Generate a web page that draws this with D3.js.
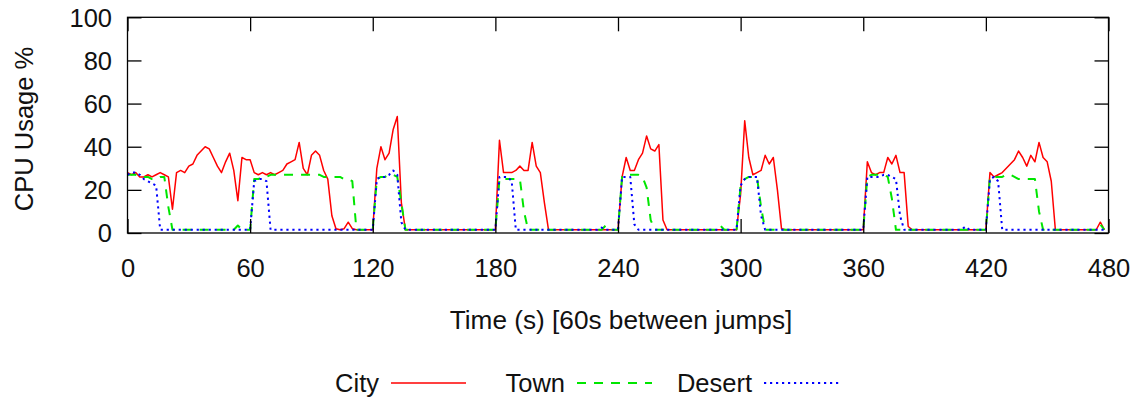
<!DOCTYPE html>
<html>
<head>
<meta charset="utf-8">
<script src="https://cdn.jsdelivr.net/npm/d3@7"></script>
<style>
  html, body { margin: 0; padding: 0; background: #fff; }
  svg { display: block; }
  text { font-family: "Liberation Sans", Arial, Helvetica, sans-serif; fill: #111; }
</style>
</head>
<body>
<svg id="chart" width="1135" height="402"></svg>
<script>
// ---- data (CPU usage %, one sample every 2 s, t = 0 .. 478 s) ----
const seriesNames = ["City", "Town", "Desert"];
const xTickValues = [0, 60, 120, 180, 240, 300, 360, 420, 480];
const yTickValues = [0, 20, 40, 60, 80, 100];

const cityValues = [
  28,27,28,26,26,27,26,27,28,27, 26,11,28,29,28,31,32,36,38,40, 39,35,31,28,33,37,29,15,35,34,
  34,28,27,28,27,28,27,28,29,32, 33,34,42,30,27,36,38,36,29,25, 8,2,1.5,2,5,2,1.5,1.5,1.5,1.5,
  1.5,30,40,34,37,48,54,14,1.5,1.5, 1.5,1.5,1.5,1.5,1.5,1.5,1.5,1.5,1.5,1.5, 1.5,1.5,1.5,1.5,1.5,1.5,1.5,1.5,1.5,1.5,
  1.5,43,28,28,28,29,31,29,29,42, 31,28,14,1.5,1.5,1.5,1.5,1.5,1.5,1.5, 1.5,1.5,1.5,1.5,1.5,1.5,1.5,1.5,1.5,1.5,
  1.5,26,35,29,29,34,37,45,39,38, 41,6,1.5,1.5,1.5,1.5,1.5,1.5,1.5,1.5, 1.5,1.5,1.5,1.5,1.5,1.5,1.5,1.5,1.5,1.5,
  18,52,35,27,28,29,36,32,35,20, 2,1.5,1.5,1.5,1.5,1.5,1.5,1.5,1.5,1.5, 1.5,1.5,1.5,1.5,1.5,1.5,1.5,1.5,1.5,1.5,
  1.5,33,28,27,28,28,35,32,36,28, 28,3,1.5,1.5,1.5,1.5,1.5,1.5,1.5,1.5, 1.5,1.5,1.5,1.5,1.5,1.5,1.5,1.5,1.5,1.5,
  1.5,28,26,27,28,30,32,34,38,35, 31,36,33,42,35,33,24,1.5,1.5,1.5, 1.5,1.5,1.5,1.5,1.5,1.5,1.5,1.5,5,1.5
];

const townValues = [
  27,27,27,26,26,26,25,25,26,26, 12,1.5,1.5,1.5,1.5,1.5,1.5,1.5,1.5,1.5, 1.5,1.5,1.5,1.5,1.5,1.5,1.5,3.5,1.5,1.5,
  1.5,25,25,26,26,27,27,27,27,27, 27,27,27,27,27,27,27,27,26,26, 26,26,26,25,25,24,1.5,1.5,1.5,1.5,
  1.5,25,26,26,27,27,26,14,1.5,1.5, 1.5,1.5,1.5,1.5,1.5,1.5,1.5,1.5,1.5,1.5, 1.5,1.5,1.5,1.5,1.5,1.5,1.5,1.5,1.5,1.5,
  1.5,25,25,25,25,25,25,10,1.5,1.5, 1.5,1.5,1.5,1.5,1.5,1.5,1.5,1.5,1.5,1.5, 1.5,1.5,1.5,1.5,1.5,1.5,1.5,3.5,1.5,1.5,
  1.5,26,27,27,27,27,26,21,6,1.5, 1.5,1.5,1.5,1.5,1.5,1.5,1.5,1.5,1.5,1.5, 1.5,1.5,1.5,1.5,1.5,3.5,1.5,1.5,1.5,1.5,
  22,25,26,26,26,12,1.5,1.5,1.5,1.5, 1.5,1.5,1.5,1.5,1.5,1.5,1.5,1.5,1.5,1.5, 1.5,1.5,1.5,1.5,1.5,1.5,1.5,1.5,1.5,1.5,
  1.5,26,27,27,27,27,26,16,1.5,1.5, 1.5,1.5,1.5,1.5,1.5,1.5,1.5,1.5,1.5,1.5, 1.5,1.5,1.5,1.5,1.5,1.5,1.5,1.5,1.5,1.5,
  1.5,26,26,26,26,27,27,26,25,25, 25,25,25,10,1.5,1.5,1.5,1.5,1.5,1.5, 1.5,1.5,1.5,1.5,1.5,1.5,1.5,1.5,4,1.5
];

const desertValues = [
  27,28,28,27,25,24,23,22,1.5,1.5, 1.5,1.5,1.5,1.5,1.5,1.5,1.5,1.5,1.5,1.5, 1.5,1.5,1.5,1.5,1.5,1.5,1.5,1.5,1.5,1.5,
  1.5,24,25,25,24,1.5,1.5,1.5,1.5,1.5, 1.5,1.5,1.5,1.5,1.5,1.5,1.5,1.5,1.5,1.5, 1.5,1.5,1.5,1.5,1.5,1.5,1.5,1.5,1.5,1.5,
  1.5,25,26,26,27,29,27,5,1.5,1.5, 1.5,1.5,1.5,1.5,1.5,1.5,1.5,1.5,1.5,1.5, 1.5,1.5,1.5,1.5,1.5,1.5,1.5,1.5,1.5,1.5,
  1.5,26,26,26,24,1.5,1.5,1.5,1.5,1.5, 1.5,1.5,1.5,1.5,1.5,1.5,1.5,1.5,1.5,1.5, 1.5,1.5,1.5,1.5,1.5,1.5,2.5,1.5,1.5,1.5,
  1.5,26,26,26,4,1.5,1.5,1.5,1.5,1.5, 1.5,1.5,1.5,1.5,1.5,1.5,1.5,1.5,1.5,1.5, 1.5,1.5,1.5,1.5,1.5,1.5,1.5,1.5,1.5,1.5,
  22,25,26,26,26,8,1.5,1.5,1.5,1.5, 1.5,1.5,1.5,1.5,1.5,1.5,1.5,1.5,1.5,1.5, 1.5,1.5,1.5,1.5,1.5,1.5,1.5,1.5,1.5,1.5,
  1.5,26,26,26,26,27,27,26,25,8, 1.5,1.5,1.5,1.5,1.5,1.5,1.5,1.5,1.5,1.5, 1.5,1.5,1.5,1.5,1.5,3,1.5,1.5,1.5,1.5,
  1.5,25,26,24,1.5,1.5,1.5,1.5,1.5,1.5, 1.5,1.5,1.5,1.5,1.5,1.5,1.5,1.5,1.5,1.5, 1.5,1.5,1.5,1.5,1.5,1.5,1.5,1.5,1.5,1.5
];

const sampleTimes = cityValues.map((_, i) => i * 2);

// ---- layout ----
const W = 1135, H = 402;
const plot = { left: 127.5, right: 1108.5, top: 17.3, bottom: 233 };
const fontSize = 25.5;
const tickLen = 14;

const svg = d3.select("#chart");
svg.append("rect").attr("width", W).attr("height", H).attr("fill", "#fff");

const x = d3.scaleLinear().domain([0, 480]).range([plot.left, plot.right]);
const y = d3.scaleLinear().domain([0, 100]).range([plot.bottom, plot.top]);

const styles = [
  { name: "City",   values: cityValues,   color: "#ff0000", width: 1.5, dash: null },
  { name: "Town",   values: townValues,   color: "#00e600", width: 2,   dash: "9,8" },
  { name: "Desert", values: desertValues, color: "#0000ff", width: 2,   dash: "2.2,3.8" }
];

// series lines
const line = d3.line().x(d => x(d[0])).y(d => y(d[1]));
styles.forEach(s => {
  const pts = sampleTimes.map((t, i) => [t, s.values[i]]);
  svg.append("path")
    .datum(pts)
    .attr("d", line)
    .attr("fill", "none")
    .attr("stroke", s.color)
    .attr("stroke-width", s.width)
    .attr("stroke-linejoin", "round")
    .attr("stroke-dasharray", s.dash);
});

// axes (gnuplot style: ticks inward, mirrored)
const axisG = svg.append("g");
const bottomAxis = d3.axisBottom(x).tickValues(xTickValues).tickSize(-tickLen).tickPadding(0).tickFormat(d3.format("d"));
const topAxis = d3.axisTop(x).tickValues(xTickValues).tickSize(-tickLen).tickFormat("");
const leftAxis = d3.axisLeft(y).tickValues(yTickValues).tickSize(-tickLen).tickFormat(d3.format("d"));
const rightAxis = d3.axisRight(y).tickValues(yTickValues).tickSize(-tickLen).tickFormat("");

const gB = axisG.append("g").attr("transform", `translate(0,${plot.bottom})`).call(bottomAxis);
const gT = axisG.append("g").attr("transform", `translate(0,${plot.top})`).call(topAxis);
const gL = axisG.append("g").attr("transform", `translate(${plot.left},0)`).call(leftAxis);
const gR = axisG.append("g").attr("transform", `translate(${plot.right},0)`).call(rightAxis);

[gB, gT, gL, gR].forEach(g => {
  g.select(".domain").remove();
  g.selectAll(".tick line").attr("stroke", "#000").attr("stroke-width", 1.3);
  g.selectAll("text").attr("font-size", fontSize).attr("font-family", "Liberation Sans, Arial, sans-serif").attr("fill", "#111");
});
gB.selectAll(".tick text").attr("y", 44).attr("dy", 0);
gL.selectAll(".tick text").attr("x", -15.5).attr("dy", "0.35em");

// frame
svg.append("rect")
  .attr("x", plot.left).attr("y", plot.top)
  .attr("width", plot.right - plot.left).attr("height", plot.bottom - plot.top)
  .attr("fill", "none").attr("stroke", "#000").attr("stroke-width", 1.3);

// axis titles
svg.append("text")
  .attr("transform", `translate(33,129) rotate(-90)`)
  .attr("text-anchor", "middle")
  .attr("font-size", fontSize)
  .text("CPU Usage %");

svg.append("text")
  .attr("x", 621).attr("y", 329)
  .attr("text-anchor", "middle")
  .attr("font-size", 26.2)
  .text("Time (s) [60s between jumps]");

// legend
const legendTextEnds = [379, 565, 752];
const legendY = 383;
styles.forEach((s, i) => {
  const xe = legendTextEnds[i];
  svg.append("text")
    .attr("x", xe).attr("y", legendY + 9)
    .attr("text-anchor", "end")
    .attr("font-size", fontSize)
    .text(s.name);
  svg.append("line")
    .attr("x1", xe + 12).attr("x2", xe + 87)
    .attr("y1", legendY).attr("y2", legendY)
    .attr("stroke", s.color)
    .attr("stroke-width", s.width)
    .attr("stroke-dasharray", s.dash);
});
</script>
</body>
</html>
